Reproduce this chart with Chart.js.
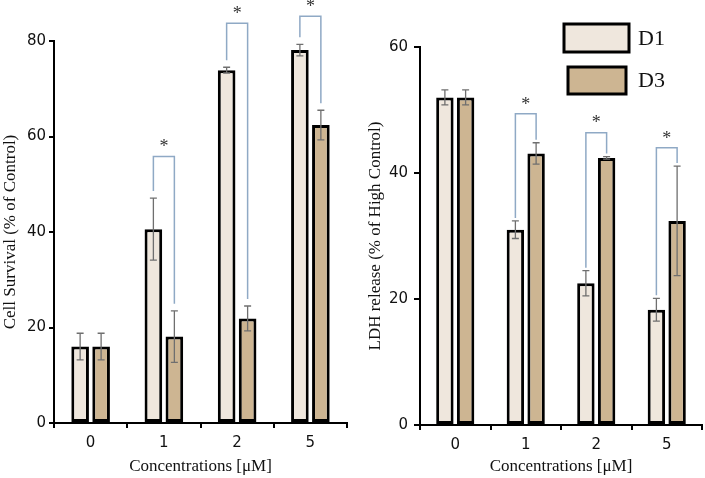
<!DOCTYPE html>
<html lang="en">
<head>
<meta charset="UTF-8">
<title>Cell survival and LDH release</title>
<script src="https://cdn.jsdelivr.net/npm/chart.js@4"></script>
<style>
  body { margin: 0; background: #fff; }
  #wrap { position: relative; width: 705px; height: 478px; }
  canvas { position: absolute; top: 0; }
</style>
</head>
<body>
<div id="wrap">
  <canvas id="survChart" width="360" height="478" style="left:0"></canvas>
  <canvas id="ldhChart" width="345" height="478" style="left:360px"></canvas>
</div>
<script>
const concentrations = ['0', '1', '2', '5'];
const seriesNames = ['D1', 'D3'];

// left panel: cell survival (% of control)
const survivalD1 = [16.0, 40.6, 73.9, 78.1];
const survivalD3 = [16.0, 18.1, 21.9, 62.4];
const survivalErrD1 = [2.8, 6.5, 0.6, 1.2];
const survivalErrD3 = [2.8, 5.4, 2.6, 3.1];
const survivalSigTop = [null, 55.8, 83.7, 85.2];

// right panel: LDH release (% of high control)
const ldhD1 = [52.0, 31.0, 22.5, 18.3];
const ldhD3 = [52.0, 43.1, 42.4, 32.4];
const ldhErrD1 = [1.2, 1.4, 2.0, 1.8];
const ldhErrD3 = [1.2, 1.7, 0.2, 8.7];
const ldhSigTop = [null, 49.4, 46.4, 44.0];

const fillD1 = '#efe7dd';
const fillD3 = '#cdb592';
const tickFont = { family: "'DejaVu Sans'", size: 15 };
const titleFont = { family: "'Liberation Serif'", size: 17 };

// error bars with caps, drawn from each dataset's "errors"
const errorBars = {
  id: 'errorBars',
  afterDatasetsDraw(chart) {
    const ctx = chart.ctx, y = chart.scales.y;
    ctx.save();
    ctx.strokeStyle = '#6f6f6f';
    ctx.lineWidth = 1.3;
    chart.data.datasets.forEach((ds, di) => {
      chart.getDatasetMeta(di).data.forEach((bar, i) => {
        const v = ds.data[i], e = ds.errors[i];
        const yt = y.getPixelForValue(v + e), yb = y.getPixelForValue(v - e);
        ctx.beginPath();
        ctx.moveTo(bar.x, yt); ctx.lineTo(bar.x, yb);
        ctx.moveTo(bar.x - 3.5, yt); ctx.lineTo(bar.x + 3.5, yt);
        ctx.moveTo(bar.x - 3.5, yb); ctx.lineTo(bar.x + 3.5, yb);
        ctx.stroke();
      });
    });
    ctx.restore();
  }
};

// significance brackets + asterisk between D1 and D3
const brackets = {
  id: 'brackets',
  afterDraw(chart, args, opts) {
    const ctx = chart.ctx, y = chart.scales.y;
    const ds = chart.data.datasets;
    const m0 = chart.getDatasetMeta(0), m1 = chart.getDatasetMeta(1);
    ctx.save();
    opts.tops.forEach((top, i) => {
      if (top == null) return;
      const xl = m0.data[i].x, xr = m1.data[i].x;
      const yTop = y.getPixelForValue(top);
      const yl = y.getPixelForValue(ds[0].data[i] + ds[0].errors[i]) - opts.gap;
      const yr = y.getPixelForValue(ds[1].data[i] + ds[1].errors[i]) - opts.gap;
      ctx.strokeStyle = '#8fa9c5';
      ctx.lineWidth = 1.5;
      ctx.beginPath();
      ctx.moveTo(xl, yl); ctx.lineTo(xl, yTop); ctx.lineTo(xr, yTop); ctx.lineTo(xr, yr);
      ctx.stroke();
      ctx.fillStyle = '#333';
      ctx.font = '18px "Liberation Serif"';
      ctx.textAlign = 'center';
      ctx.textBaseline = 'middle';
      ctx.fillText('*', (xl + xr) / 2, yTop - 9);
    });
    ctx.restore();
  }
};

// boxed legend in the upper right of the LDH panel
const boxLegend = {
  id: 'boxLegend',
  afterDraw(chart, args, opts) {
    if (!opts.boxes) return;
    const ctx = chart.ctx;
    ctx.save();
    chart.data.datasets.forEach((ds, i) => {
      const b = opts.boxes[i];
      ctx.fillStyle = ds.backgroundColor;
      ctx.fillRect(b[0], b[1], b[2], b[3]);
      ctx.strokeStyle = '#000';
      ctx.lineWidth = 3;
      ctx.strokeRect(b[0], b[1], b[2], b[3]);
      ctx.fillStyle = '#111';
      ctx.font = '22px "Liberation Serif"';
      ctx.textBaseline = 'middle';
      ctx.fillText(ds.label, opts.textX, b[1] + b[3] / 2 + 1);
    });
    ctx.restore();
  }
};

function makeChart(id, d1, d3, e1, e3, sigTop, cfg) {
  return new Chart(document.getElementById(id), {
    type: 'bar',
    data: {
      labels: concentrations,
      datasets: [
        { label: seriesNames[0], data: d1, errors: e1, backgroundColor: fillD1 },
        { label: seriesNames[1], data: d3, errors: e3, backgroundColor: fillD3 }
      ]
    },
    options: {
      responsive: false,
      devicePixelRatio: 1,
      animation: false,
      datasets: {
        bar: {
          borderColor: '#000', borderWidth: 3, borderSkipped: false,
          categoryPercentage: cfg.catPct, barPercentage: 0.84
        }
      },
      layout: { padding: cfg.padding },
      plugins: {
        legend: { display: false },
        tooltip: { enabled: false },
        brackets: { tops: sigTop, gap: cfg.gap },
        boxLegend: { boxes: cfg.legendBoxes, textX: cfg.legendTextX }
      },
      scales: {
        x: {
          offset: true,
          grid: { offset: true, drawOnChartArea: false, tickLength: 5, color: '#000', lineWidth: 2 },
          border: { color: '#000', width: 2 },
          ticks: { color: '#111', font: tickFont, padding: 6 },
          title: { display: true, text: 'Concentrations [μM]', color: '#111', font: titleFont, padding: { top: 0, bottom: 1 } },
          afterFit(s) { s.height = cfg.xHeight; }
        },
        y: {
          min: 0, max: cfg.yMax,
          grid: { drawOnChartArea: false, tickLength: cfg.tickLen, color: '#000', lineWidth: 2 },
          border: { color: '#000', width: 2 },
          ticks: { stepSize: 20, color: '#111', font: tickFont, padding: cfg.tickPad },
          title: { display: true, text: cfg.yTitle, color: '#111', font: titleFont, padding: { top: cfg.titlePad, bottom: 0 } },
          afterFit(s) { s.width = cfg.yWidth; }
        }
      }
    },
    plugins: [errorBars, brackets, boxLegend]
  });
}

makeChart('survChart', survivalD1, survivalD3, survivalErrD1, survivalErrD3, survivalSigTop, {
  yMax: 80, yTitle: 'Cell Survival (% of Control)',
  padding: { top: 41, right: 13, left: 0, bottom: 0 },
  yWidth: 54, xHeight: 55, tickLen: 5, tickPad: 3, titlePad: 0,
  catPct: 0.573, gap: 7
});

makeChart('ldhChart', ldhD1, ldhD3, ldhErrD1, ldhErrD3, ldhSigTop, {
  yMax: 60, yTitle: 'LDH release (% of High Control)',
  padding: { top: 47, right: 3, left: 0, bottom: 0 },
  yWidth: 60, xHeight: 53, tickLen: 6, tickPad: 6, titlePad: 5,
  catPct: 0.588, gap: 3,
  legendBoxes: [[204, 24, 65, 28], [208, 67, 58, 27]], legendTextX: 278
});
</script>
</body>
</html>
